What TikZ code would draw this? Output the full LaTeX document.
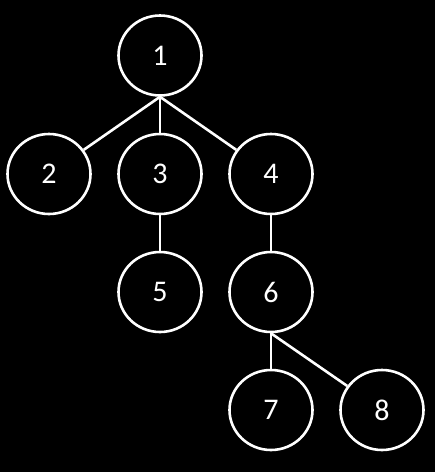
\documentclass[tikz,border=0pt]{standalone}
\usepackage{fontspec}
\setmainfont{Carlito}
\usetikzlibrary{shapes.geometric}
\begin{document}
\begin{tikzpicture}[x=1pt,y=-1pt,
  treenode/.style={ellipse,draw=white,line width=2.6pt,fill=black,minimum width=83pt,minimum height=80pt,inner sep=0pt,text=white,font=\fontsize{30}{36}\selectfont},
  edge/.style={draw=white,line width=2.6pt}]
\fill[black] (0,0) rectangle (435,472);
\useasboundingbox (0,0) rectangle (435,472);
\node[treenode] (n1) at (160,55.5) {1};
\node[treenode] (n2) at (49,174) {2};
\node[treenode] (n3) at (160,174) {3};
\node[treenode] (n4) at (271,174) {4};
\node[treenode] (n5) at (160,292) {5};
\node[treenode] (n6) at (271,292) {6};
\node[treenode] (n7) at (271,410) {7};
\node[treenode] (n8) at (382,410) {8};
\draw[edge] (n1.south) -- (n2);
\draw[edge] (n1.south) -- (n3.north);
\draw[edge] (n1.south) -- (n4);
\draw[edge] (n3.south) -- (n5.north);
\draw[edge] (n4.south) -- (n6.north);
\draw[edge] (n6.south) -- (n7.north);
\draw[edge] (n6.south) -- (n8);
\end{tikzpicture}
\end{document}
